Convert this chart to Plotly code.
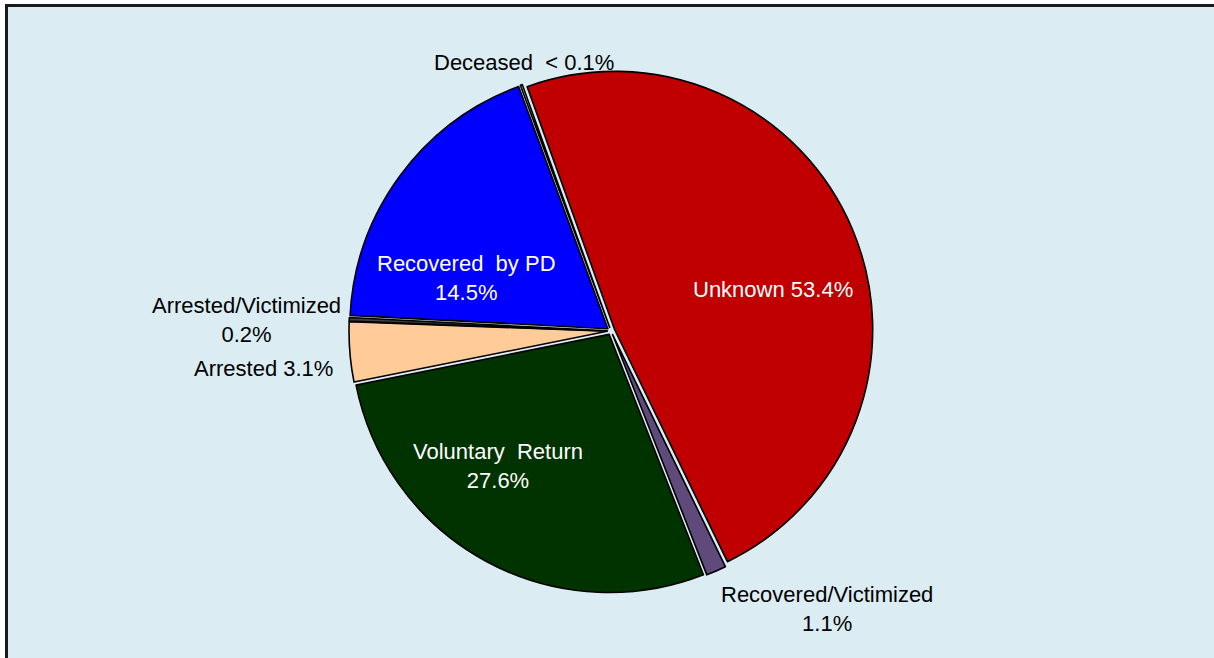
import plotly.graph_objects as go

# Categories in clockwise drawing order (starting just left of 12 o'clock)
categories = ["Unknown", "Recovered/Victimized", "Voluntary  Return", "Arrested",
              "Arrested/Victimized", "Recovered  by PD", "Deceased"]
# Slice sizes as drawn in the picture (share of the circle, %)
slice_share = [48.3, 1.25, 27.8, 3.75, 0.22, 18.56, 0.12]
# Percentages printed on the chart labels
shown_pct = ["53.4%", "1.1%", "27.6%", "3.1%", "0.2%", "14.5%", "&lt; 0.1%"]
slice_colors = ["#C00000", "#604A7B", "#003300", "#FFCC99", "#404040", "#0000FF", "#FFFFFF"]

# ---- presentation settings (not data) ----
joiners = [" ", "<br>", "<br>", " ", "<br>", "<br>", "  "]
label_colors = ["white", "black", "white", "black", "black", "white", "black"]
# label block centres in pixels (x, y from top)
label_px = [(773, 290), (827, 609), (498, 466), (263, 368), (246, 320), (466, 278), (524, 63)]

W, H = 1214, 658
cx, cy, R = 611, 331, 262
FONT = "Liberation Sans, Arial, sans-serif"

fig = go.Figure(go.Pie(
    labels=categories,
    values=slice_share,
    textinfo="none",
    sort=False,
    direction="clockwise",
    rotation=-19.8,
    pull=0.015,
    marker=dict(colors=slice_colors, line=dict(color="black", width=1.6)),
    domain=dict(x=[(cx - R) / W, (cx + R) / W], y=[(H - cy - R) / H, (H - cy + R) / H]),
    hovertext=[c + " " + p for c, p in zip(categories, shown_pct)],
    hoverinfo="text",
))

annotations = []
for cat, j, pct, col, (px, py) in zip(categories, joiners, shown_pct, label_colors, label_px):
    annotations.append(dict(
        text=cat + j + pct, x=px / W, y=1 - py / H, xref="paper", yref="paper",
        xanchor="center", yanchor="middle", align="center", showarrow=False,
        font=dict(family=FONT, size=22, color=col),
    ))

top_y = 1 - 5.5 / H
left_x = 6.5 / W
fig.update_layout(
    width=W, height=H,
    margin=dict(l=0, r=0, t=0, b=0),
    paper_bgcolor="white",
    showlegend=False,
    annotations=annotations,
    shapes=[
        dict(type="rect", xref="paper", yref="paper", x0=left_x, x1=1.0, y0=0.0, y1=top_y,
             fillcolor="#DBEDF3", line=dict(width=0), layer="below"),
        dict(type="line", xref="paper", yref="paper", x0=left_x - 1.5 / W, x1=1.0, y0=top_y, y1=top_y,
             line=dict(color="#1a1a1a", width=3), layer="below"),
        dict(type="line", xref="paper", yref="paper", x0=left_x, x1=left_x, y0=0.0, y1=top_y,
             line=dict(color="#1a1a1a", width=3), layer="below"),
    ],
)

fig.write_html("out.html", config={"displayModeBar": False},
               post_script="document.body.style.margin='0';document.body.style.padding='0';document.body.style.overflow='hidden';")
